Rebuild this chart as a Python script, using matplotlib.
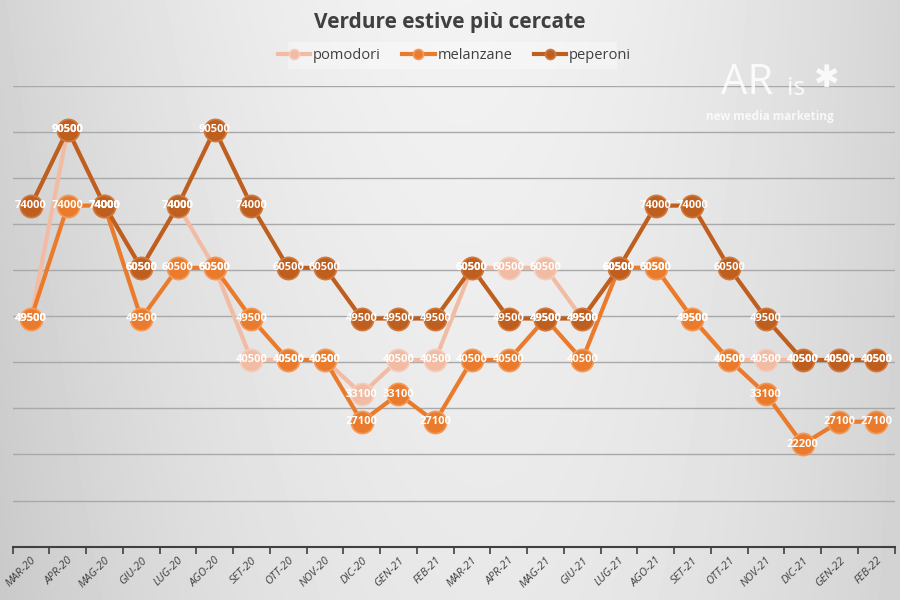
import numpy as np
import matplotlib.pyplot as plt
from matplotlib.patches import FancyBboxPatch

# dati
mesi = ['MAR-20', 'APR-20', 'MAG-20', 'GIU-20', 'LUG-20', 'AGO-20', 'SET-20', 'OTT-20',
        'NOV-20', 'DIC-20', 'GEN-21', 'FEB-21', 'MAR-21', 'APR-21', 'MAG-21', 'GIU-21',
        'LUG-21', 'AGO-21', 'SET-21', 'OTT-21', 'NOV-21', 'DIC-21', 'GEN-22', 'FEB-22']
pomodori = [49500, 90500, 74000, 60500, 74000, 60500, 40500, 40500, 40500, 33100, 40500, 40500,
            60500, 60500, 60500, 49500, 60500, 60500, 49500, 40500, 40500, 40500, 40500, 40500]
melanzane = [49500, 74000, 74000, 49500, 60500, 60500, 49500, 40500, 40500, 27100, 33100, 27100,
             40500, 40500, 49500, 40500, 60500, 60500, 49500, 40500, 33100, 22200, 27100, 27100]
peperoni = [74000, 90500, 74000, 60500, 74000, 90500, 74000, 60500, 60500, 49500, 49500, 49500,
            60500, 49500, 49500, 49500, 60500, 74000, 74000, 60500, 49500, 40500, 40500, 40500]

serie = [('pomodori', pomodori, '#F2BBA3', '#F6CDBB'),
         ('melanzane', melanzane, '#EA7B2C', '#F29A5A'),
         ('peperoni', peperoni, '#BE5E1F', '#D07A3E')]

plt.rcParams['font.family'] = ['Open Sans', 'DejaVu Sans']

fig = plt.figure(figsize=(9, 6), dpi=100)

# sfondo sfumato grigio
bg = fig.add_axes([0, 0, 1, 1], zorder=-10)
xx = np.linspace(-1, 1, 300)
yy = np.linspace(0, 1, 200)
X, Y = np.meshgrid(xx, yy)
val = 0.95 - 0.11 * np.abs(X - 0.05) ** 1.8 - 0.04 * Y + 0.03 * (X > 0) * X * (Y - 0.5)
bg.imshow(val, cmap='gray', vmin=0, vmax=1, aspect='auto', extent=[0, 1, 0, 1])
bg.axis('off')

ax = fig.add_axes([0.014, 0.089, 0.98, 0.768])
ax.patch.set_alpha(0)
x = np.arange(len(mesi))

for nome, valori, col, bordo in serie:
    ax.plot(x, valori, color=col, lw=3, marker='o', markersize=16,
            markerfacecolor=col, markeredgecolor=bordo, markeredgewidth=1.2,
            label=nome, zorder=3)
    for xi, v in zip(x, valori):
        ax.text(xi, v, str(v), color='white', fontsize=8, fontweight='bold',
                ha='center', va='center', zorder=4)

ax.set_xlim(-0.5, len(mesi) - 0.5)
ax.set_ylim(0, 100000)
ax.set_yticks(np.arange(10000, 100001, 10000))
ax.yaxis.grid(True, color='#a9a9a9', lw=1)
ax.tick_params(axis='y', left=False, labelleft=False)
ax.set_axisbelow(True)
for s in ['top', 'right', 'left']:
    ax.spines[s].set_visible(False)
ax.spines['bottom'].set_color('#404040')
ax.spines['bottom'].set_linewidth(1.5)

ax.set_xticks(np.arange(-0.5, len(mesi), 1))
ax.set_xticklabels([])
ax.tick_params(axis='x', length=5, width=1.2, color='#404040')
ax.set_xticks(x, minor=True)
ax.set_xticklabels(mesi, minor=True, rotation=45, ha='right', va='top',
                   rotation_mode='anchor', fontsize=8, color='#404040', style='italic')
ax.tick_params(axis='x', which='minor', length=0, pad=6)

fig.text(0.5, 0.962, 'Verdure estive più cercate', ha='center', va='center',
         fontsize=15, fontweight='bold', color='#404040')

box = FancyBboxPatch((0.32, 0.885), 0.365, 0.045, boxstyle='square,pad=0',
                     transform=fig.transFigure, facecolor='white', alpha=0.35,
                     edgecolor='none', zorder=-5)
fig.patches.append(box)
leg = fig.legend(loc='center', bbox_to_anchor=(0.505, 0.907), ncol=3, frameon=False,
                 fontsize=10.5, handlelength=2.2, handletextpad=0.2, columnspacing=1.5,
                 markerscale=0.45)
for t in leg.get_texts():
    t.set_color('#404040')

# marchio in alto a destra
fig.text(0.83, 0.862, 'AR', fontsize=30, color='white', alpha=0.85, ha='center',
         va='center')
fig.text(0.885, 0.852, 'is', fontsize=18, color='white', alpha=0.85, ha='center', va='center')
fig.text(0.918, 0.868, '✱', fontsize=22, color='white', alpha=0.85, ha='center', va='center')
fig.text(0.855, 0.805, 'new media marketing', fontsize=8.5, color='white', alpha=0.8,
         ha='center', va='center', fontweight='bold')

fig.savefig('out.png', dpi=100)
